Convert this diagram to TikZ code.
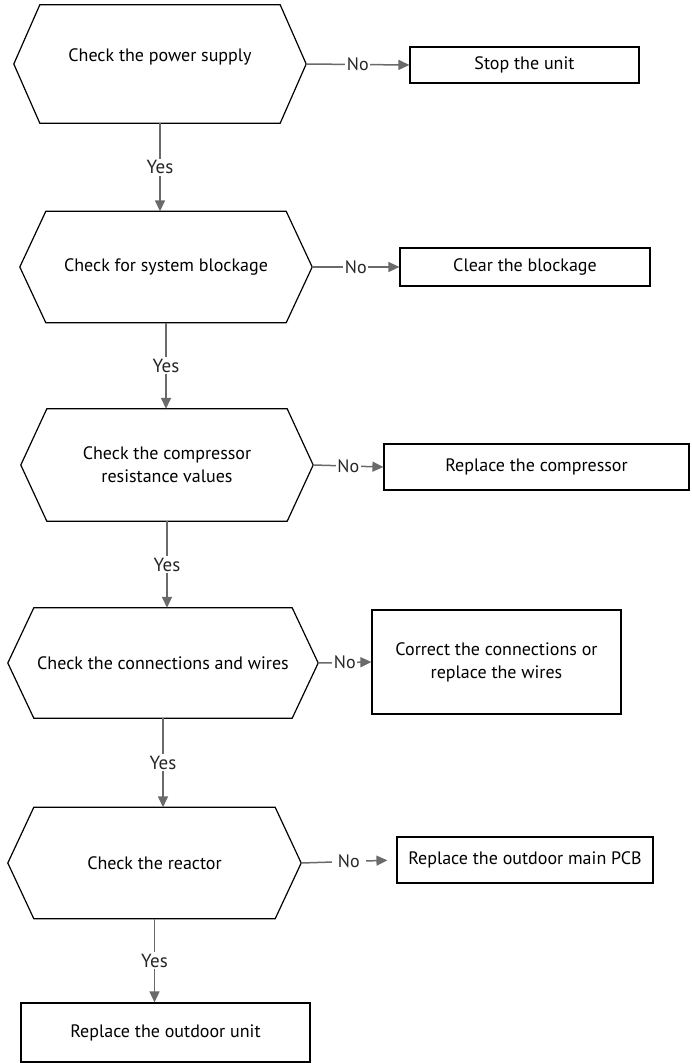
\documentclass[tikz,border=0pt]{standalone}
\usepackage{fontspec}
\setmainfont{PT Sans}
\usetikzlibrary{arrows.meta}

\definecolor{flowgray}{HTML}{6A6A6A}

\tikzset{
  check/.style={rectangle, inner sep=0pt, align=center},
  fix/.style={rectangle, draw, line width=1.2pt, align=center, inner sep=0pt},
  flow/.style={draw=flowgray, line width=1.5pt, -{Triangle[length=11pt, width=10pt]}},
  answer/.style={fill=white, inner sep=1.5pt, text=black!85, font=\fontsize{19}{22}\selectfont},
  noanswer/.style={answer, font=\fontsize{18}{21}\selectfont}
}

\newlength{\cut}
\setlength{\cut}{26pt}

\begin{document}
\begin{tikzpicture}[x=1pt, y=-1pt, font=\fontsize{18}{23}\selectfont]

% PAGE
\useasboundingbox (0,0) rectangle (691,1063);

% CHECKS
\node[check, minimum width=292pt, minimum height=118pt, text depth=18pt] (C1) at (160,64) {Check the power supply};
\node[check, minimum width=292pt, minimum height=111pt] (C2) at (166,267) {Check for system blockage};
\node[check, minimum width=292pt, minimum height=112pt] (C3) at (167,465) {Check the compressor\\resistance values};
\node[check, minimum width=310pt, minimum height=110pt] (C4) at (163,663) {Check the connections and wires};
\node[check, minimum width=293pt, minimum height=111pt] (C5) at (154.5,863) {Check the reactor};

% hexagon outlines
\foreach \j in {1,...,5} {
  \draw[line width=1.2pt] (C\j.west) -- ([xshift=\cut]C\j.north west) -- ([xshift=-\cut]C\j.north east)
    -- (C\j.east) -- ([xshift=-\cut]C\j.south east) -- ([xshift=\cut]C\j.south west) -- cycle;
}

% FIXES
\node[fix, minimum width=229pt, minimum height=36pt] (F1) at (524.5,65) {Stop the unit};
\node[fix, minimum width=250pt, minimum height=38pt] (F2) at (525,267) {Clear the blockage};
\node[fix, minimum width=305pt, minimum height=46pt] (F3) at (536.5,467) {Replace the compressor};
\node[fix, minimum width=249pt, minimum height=104pt] (F4) at (496.5,662) {Correct the connections or\\replace the wires};
\node[fix, minimum width=256pt, minimum height=46pt] (F5) at (525,860) {Replace the outdoor main PCB};
\node[fix, minimum width=289pt, minimum height=59pt] (F6) at (165.5,1032.5) {Replace the outdoor unit};

% EDGES
\foreach \j in {1,...,4} {
  \draw[flow] (C\j.east) -- node[noanswer] {No} (F\j.west);
}
\draw[flow, shorten >=9pt] (C5.east) -- node[noanswer, inner xsep=6pt] {No} (F5.west);
\draw[flow] (C1.south) -- node[answer] {Yes} (C1.south |- C2.north);
\draw[flow] (C2.south) -- node[answer] {Yes} (C2.south |- C3.north);
\draw[flow] (C3.south) -- node[answer] {Yes} (C3.south |- C4.north);
\draw[flow] (C4.south) -- node[answer] {Yes} (C4.south |- C5.north);
\draw[flow] (C5.south) -- node[answer] {Yes} (C5.south |- F6.north);

\end{tikzpicture}
\end{document}
